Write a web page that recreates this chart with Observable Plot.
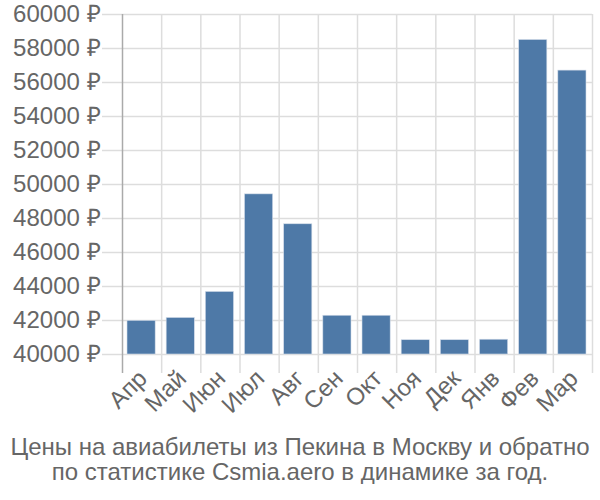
<!DOCTYPE html>
<html><head><meta charset="utf-8">
<script src="https://cdn.jsdelivr.net/npm/d3@7"></script>
<script src="https://cdn.jsdelivr.net/npm/@observablehq/plot@0.6"></script>
<style>
body{margin:0;background:#fff;font-family:"Liberation Sans",Arial,sans-serif;}
#cap{width:600px;text-align:center;color:#666;font-size:24px;line-height:25px;margin-top:2px;white-space:nowrap;}
</style></head><body>
<div id="chart"></div>
<div id="cap">Цены на авиабилеты из Пекина в Москву и обратно<br>по статистике Csmia.aero в динамике за год.</div>
<script>
const months = ["Апр","Май","Июн","Июл","Авг","Сен","Окт","Ноя","Дек","Янв","Фев","Мар"];
const prices = [41980, 42150, 43680, 49420, 47660, 42280, 42280, 40840, 40840, 40870, 58500, 56700];
const yTicks = [40000,42000,44000,46000,48000,50000,52000,54000,56000,58000,60000];

const data = months.map((m,i)=>({m, i, v: prices[i]}));
const bounds = d3.range(months.length+1);
const gridColor = "#dddddd";

const chart = Plot.plot({
  width: 600, height: 432,
  marginLeft: 122, marginRight: 8, marginTop: 14, marginBottom: 78,
  style: {fontFamily: "'Liberation Sans', Arial, sans-serif", fontSize: "24px", color: "#666", background: "#fff", overflow: "visible"},
  x: {type: "linear", domain: [0, months.length]},
  y: {domain: [40000, 60000]},
  marks: [
    Plot.ruleY(yTicks, {stroke: gridColor, strokeWidth: 1.5, insetLeft: -20}),
    Plot.ruleX(bounds.slice(1), {stroke: gridColor, strokeWidth: 1.5, insetBottom: -19}),
    Plot.ruleX([0], {stroke: "#aaaaaa", strokeWidth: 1.5, insetBottom: -19}),
    Plot.rectY(data, {x1: "i", x2: d => d.i + 1, y1: 40000, y2: "v", fill: "#4e79a7", stroke: "#d4dde9", strokeWidth: 0.6, insetLeft: 5, insetRight: 6}),
    Plot.axisY({ticks: yTicks, tickSize: 0, tickPadding: 22, tickFormat: d => d + " ₽", fill: "#666", fontSize: 24, label: null}),
    Plot.axisX({ticks: months.map((m,i)=>i+0.5), tickFormat: d => months[Math.floor(d)], tickSize: 0, tickPadding: 20, dx: 1, tickRotate: -45, fill: "#666", fontSize: 24, label: null})
  ]
});
document.getElementById("chart").appendChild(chart);
</script>
</body></html>
